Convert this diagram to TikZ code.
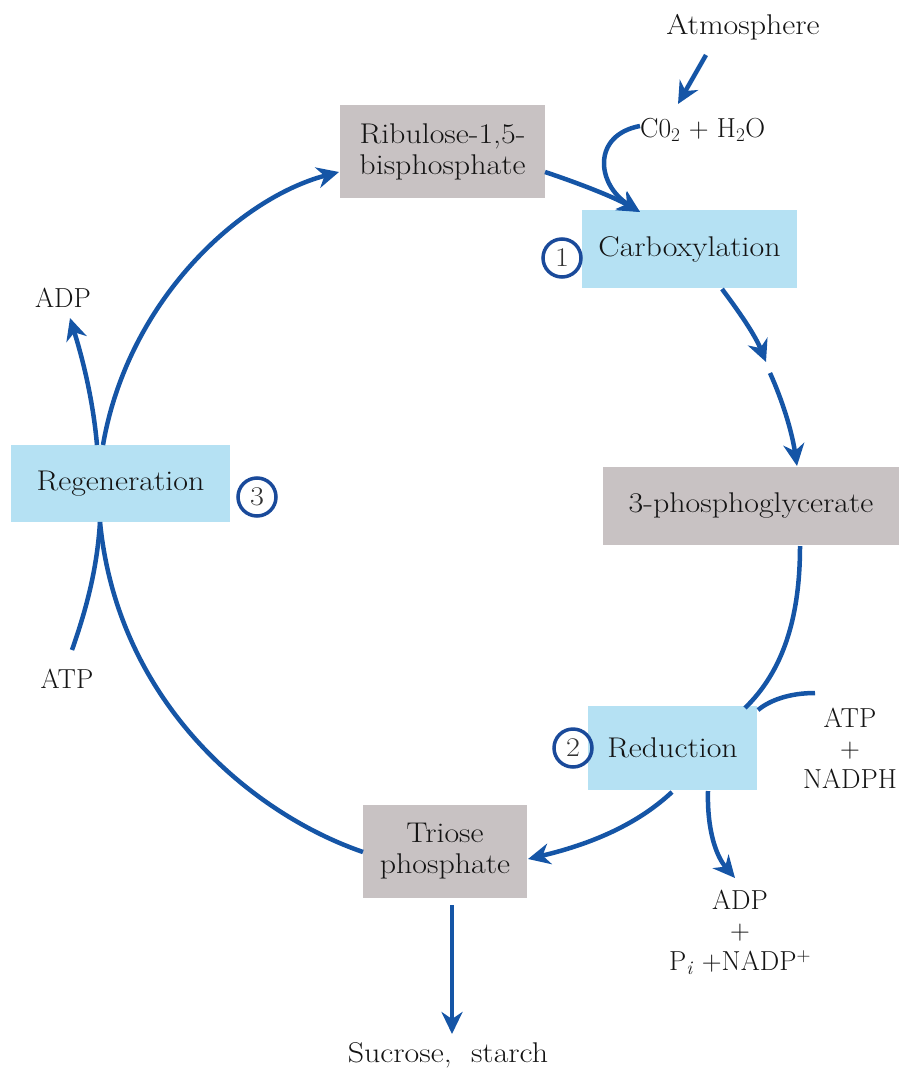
\documentclass[tikz,border=0pt]{standalone}
\usepackage{fontspec}
\setmainfont{Latin Modern Roman}[FakeStretch=1.12]
\newfontfamily\capsfont{Latin Modern Roman}
\usetikzlibrary{arrows.meta}
\definecolor{arrowblue}{RGB}{21,85,166}
\definecolor{boxblue}{RGB}{181,225,243}
\definecolor{boxgray}{RGB}{200,194,195}
\definecolor{ringblue}{RGB}{26,74,154}
\tikzset{
  lbl/.style={font=\fontsize{28.5}{31}\selectfont, text=black!92, align=center, inner sep=0pt},
  caps/.style={font=\capsfont\fontsize{27.5}{30.5}\selectfont, text=black!92, align=center, inner sep=0pt},
  graybox/.style={fill=boxgray, lbl},
  bluebox/.style={fill=boxblue, lbl},
  ring/.style={circle, draw=ringblue, line width=3.5pt, minimum size=38pt, inner sep=0pt, font=\fontsize{27}{27}\selectfont, text=black!80},
  flow/.style={draw=arrowblue, line width=4.5pt},
  flowarr/.style={flow, -{Stealth[length=22pt,width=21pt,inset=7pt]}},
}
\begin{document}
\begin{tikzpicture}[x=1pt,y=-1pt]
\useasboundingbox (0,0) rectangle (899,1070);
% boxes
\node[graybox, minimum width=205pt, minimum height=93pt] (ribu) at (442.5,151.5) {Ribulose-1,5-\\bisphosphate};
\node[bluebox, minimum width=215pt, minimum height=78pt] (carb) at (689.5,249) {Carboxylation};
\node[graybox, minimum width=296pt, minimum height=78pt] (pga) at (751,506) {3-phosphoglycerate};
\node[bluebox, minimum width=169pt, minimum height=84pt] (redu) at (672.5,748) {Reduction};
\node[graybox, minimum width=164pt, minimum height=93pt] (trio) at (445,851.5) {Triose\\phosphate};
\node[bluebox, minimum width=219pt, minimum height=77pt] (rege) at (120.5,483.5) {Regeneration};
% rings
\node[ring] (n1) at (562,258) {1};
\node[ring] (n2) at (573,748) {2};
\node[ring] (n3) at (257,497) {3};
% labels
\node[lbl] (atm) at (743,27) {Atmosphere};
\node[caps, anchor=west] (co2) at (640,130) {C0\textsubscript{2} + H\textsubscript{2}O};
\node[caps] (atpr) at (850,748) {ATP\\+\\NADPH};
\node[caps] (adpr) at (740,932) {ADP\\+\\P\textsubscript{\textit{i}} +NADP\textsuperscript{+}};
\node[lbl] (sucr) at (448,1055) {Sucrose,\ \ starch};
\node[caps] (adpl) at (63,298) {ADP};
\node[caps] (atpl) at (67,679) {ATP};
% named points
\coordinate (atmA) at (706,55);
\coordinate (atmB) at (678,104);
\coordinate (cin) at (640,212);
\coordinate (co2s) at (640,126);
\coordinate (ribo) at (545,172);
\coordinate (c1) at (722,289);
\coordinate (c2) at (766,362);
\coordinate (c3) at (770,373);
\coordinate (pgatop) at (797,466);
\coordinate (pgabot) at (800,546);
\coordinate (redtop) at (745,708);
\coordinate (nadph) at (815,693);
\coordinate (redjoin) at (758,710);
\coordinate (redb1) at (708,791);
\coordinate (adptip) at (735,878);
\coordinate (redb2) at (672,792);
\coordinate (triE) at (528,859);
\coordinate (triB) at (452,905);
\coordinate (sucT) at (452,1034);
\coordinate (triW) at (363,852);
\coordinate (regB) at (100,522);
\coordinate (atpS) at (72,650);
\coordinate (regT1) at (97,445);
\coordinate (adpT) at (70,318);
\coordinate (regT2) at (103,445);
\coordinate (ribW) at (339,172);
% connectors
\draw[flowarr] (atmA) -- (atmB);
\draw[flowarr] (co2s) .. controls (592,135) and (596,184) .. (cin);
\draw[flowarr] (ribo) .. controls (575,182) and (612,196) .. (cin);
\draw[flowarr] (c1) .. controls (740,313) and (755,335) .. (c2);
\draw[flowarr] (c3) .. controls (783,402) and (792,432) .. (pgatop);
\draw[flow] (pgabot) .. controls (800,620) and (782,672) .. (redtop);
\draw[flow] (nadph) .. controls (790,693) and (770,700) .. (redjoin);
\draw[flowarr] (redb1) .. controls (707,830) and (716,856) .. (adptip);
\draw[flowarr] (redb2) .. controls (642,820) and (600,842) .. (triE);
\draw[flowarr] (triB) -- (sucT);
\draw[flow] (triW) .. controls (255,815) and (118,705) .. (regB);
\draw[flow] (atpS) .. controls (86,610) and (97,570) .. (regB);
\draw[flowarr] (regT1) .. controls (93,400) and (83,360) .. (adpT);
\draw[flowarr] (regT2) .. controls (128,300) and (240,198) .. (ribW);
\end{tikzpicture}
\end{document}
